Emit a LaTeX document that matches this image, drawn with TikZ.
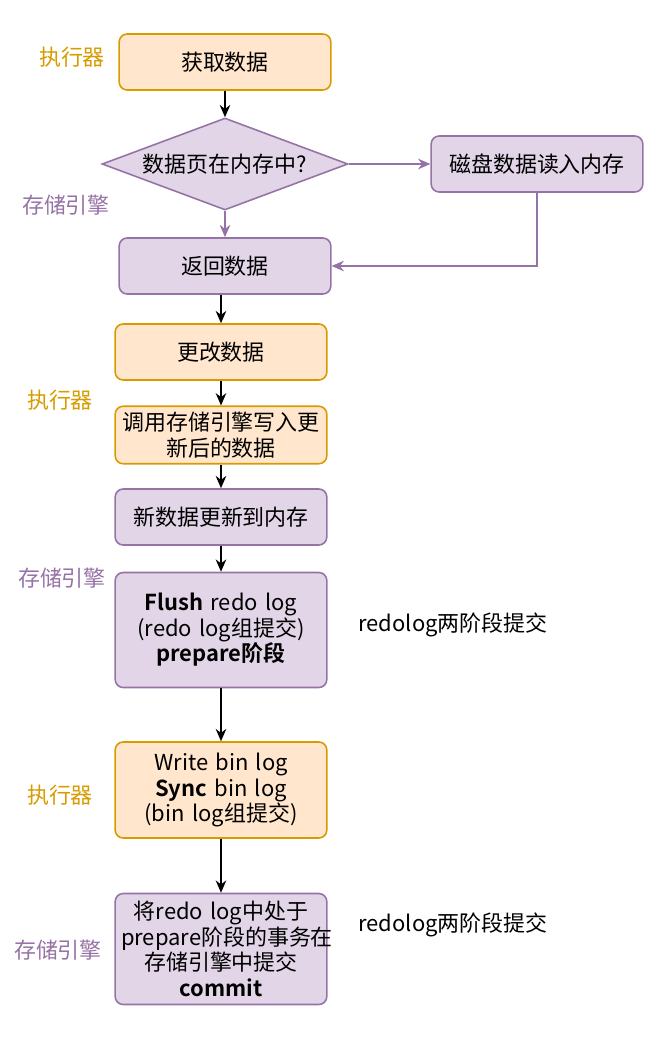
\documentclass[tikz,border=0pt]{standalone}
\usepackage{fontspec}
\setmainfont{Noto Sans CJK SC}[BoldFont={Noto Sans CJK SC Bold}]
\usepackage{tikz}
\usetikzlibrary{positioning,arrows.meta,shapes.geometric}
\usepackage{xcolor}
\definecolor{exefill}{HTML}{FFE6CC}
\definecolor{exeline}{HTML}{D79B00}
\definecolor{engfill}{HTML}{E1D5E7}
\definecolor{engline}{HTML}{9673A6}
\tikzset{
  exebox/.style={draw=exeline, fill=exefill, rounded corners=0.16cm, line width=0.9pt,
    minimum width=4.2cm, minimum height=1.12cm, align=center, text width=4cm},
  engbox/.style={exebox, draw=engline, fill=engfill},
  exelab/.style={text=exeline},
  englab/.style={text=engline},
  blk/.style={-{Stealth[length=7pt,width=6pt]}, line width=0.9pt},
  prp/.style={blk, draw=engline}
}

\begin{document}
\begin{tikzpicture}[x=0.02cm, y=-0.02cm, every node/.style={font=\fontsize{12.5pt}{14.5pt}\selectfont}]
  \useasboundingbox (0,0) rectangle (672,1046);
  % Read path
  \node[exebox] (fetch) at (225,62) {获取数据};
  \node[diamond, aspect=2.67, draw=engline, fill=engfill, line width=0.9pt, minimum width=4.92cm,
        minimum height=1.84cm, inner sep=0pt] (inmem) at (225,164) {数据页在内存中?};
  \node[engbox] (disk) at (537,164) {磁盘数据读入内存};
  \node[engbox] (ret) at (225,266) {返回数据};
  % Update path
  \node[exebox] (change) at (221,352) {更改数据};
  \node[exebox] (call) at (221,435) {调用存储引擎写入更\\新后的数据};
  \node[engbox] (mem) at (221,517) {新数据更新到内存};
  \node[engbox, minimum height=2.3cm] (flush) at (221,630)
    {\textbf{Flush} redo log\\(redo log组提交)\\\textbf{prepare阶段}};
  \node[exebox, minimum height=1.92cm] (binlog) at (221,790)
    {Write bin log\\\textbf{Sync} bin log\\(bin log组提交)};
  \node[engbox, minimum height=2.22cm] (commit) at (221,949)
    {将redo log中处于\\prepare阶段的事务在\\存储引擎中提交\\\textbf{commit}};
  % Side labels
  \node[exelab] (lab1) at (72,57) {执行器};
  \node[englab] (lab2) at (66,205) {存储引擎};
  \node[exelab] (lab3) at (60,400) {执行器};
  \node[englab] (lab4) at (62,578) {存储引擎};
  \node[exelab] (lab5) at (60,795) {执行器};
  \node[englab] (lab6) at (58,950) {存储引擎};
  \node (note1) at (453,625) {redolog两阶段提交};
  \node (note2) at (453,925) {redolog两阶段提交};
  % Connectors
  \draw[blk] (fetch) -- (inmem);
  \draw[prp] (inmem.east) -- (disk.west);
  \draw[prp] (inmem.south) -- (ret.north);
  \draw[prp] (disk.south) |- (ret.east);
  \draw[blk] (ret.south -| change.north) -- (change.north);
  \draw[blk] (change) -- (call);
  \draw[blk] (call) -- (mem);
  \draw[blk] (mem) -- (flush);
  \draw[blk] (flush) -- (binlog);
  \draw[blk] (binlog) -- (commit);
\end{tikzpicture}
\end{document}
